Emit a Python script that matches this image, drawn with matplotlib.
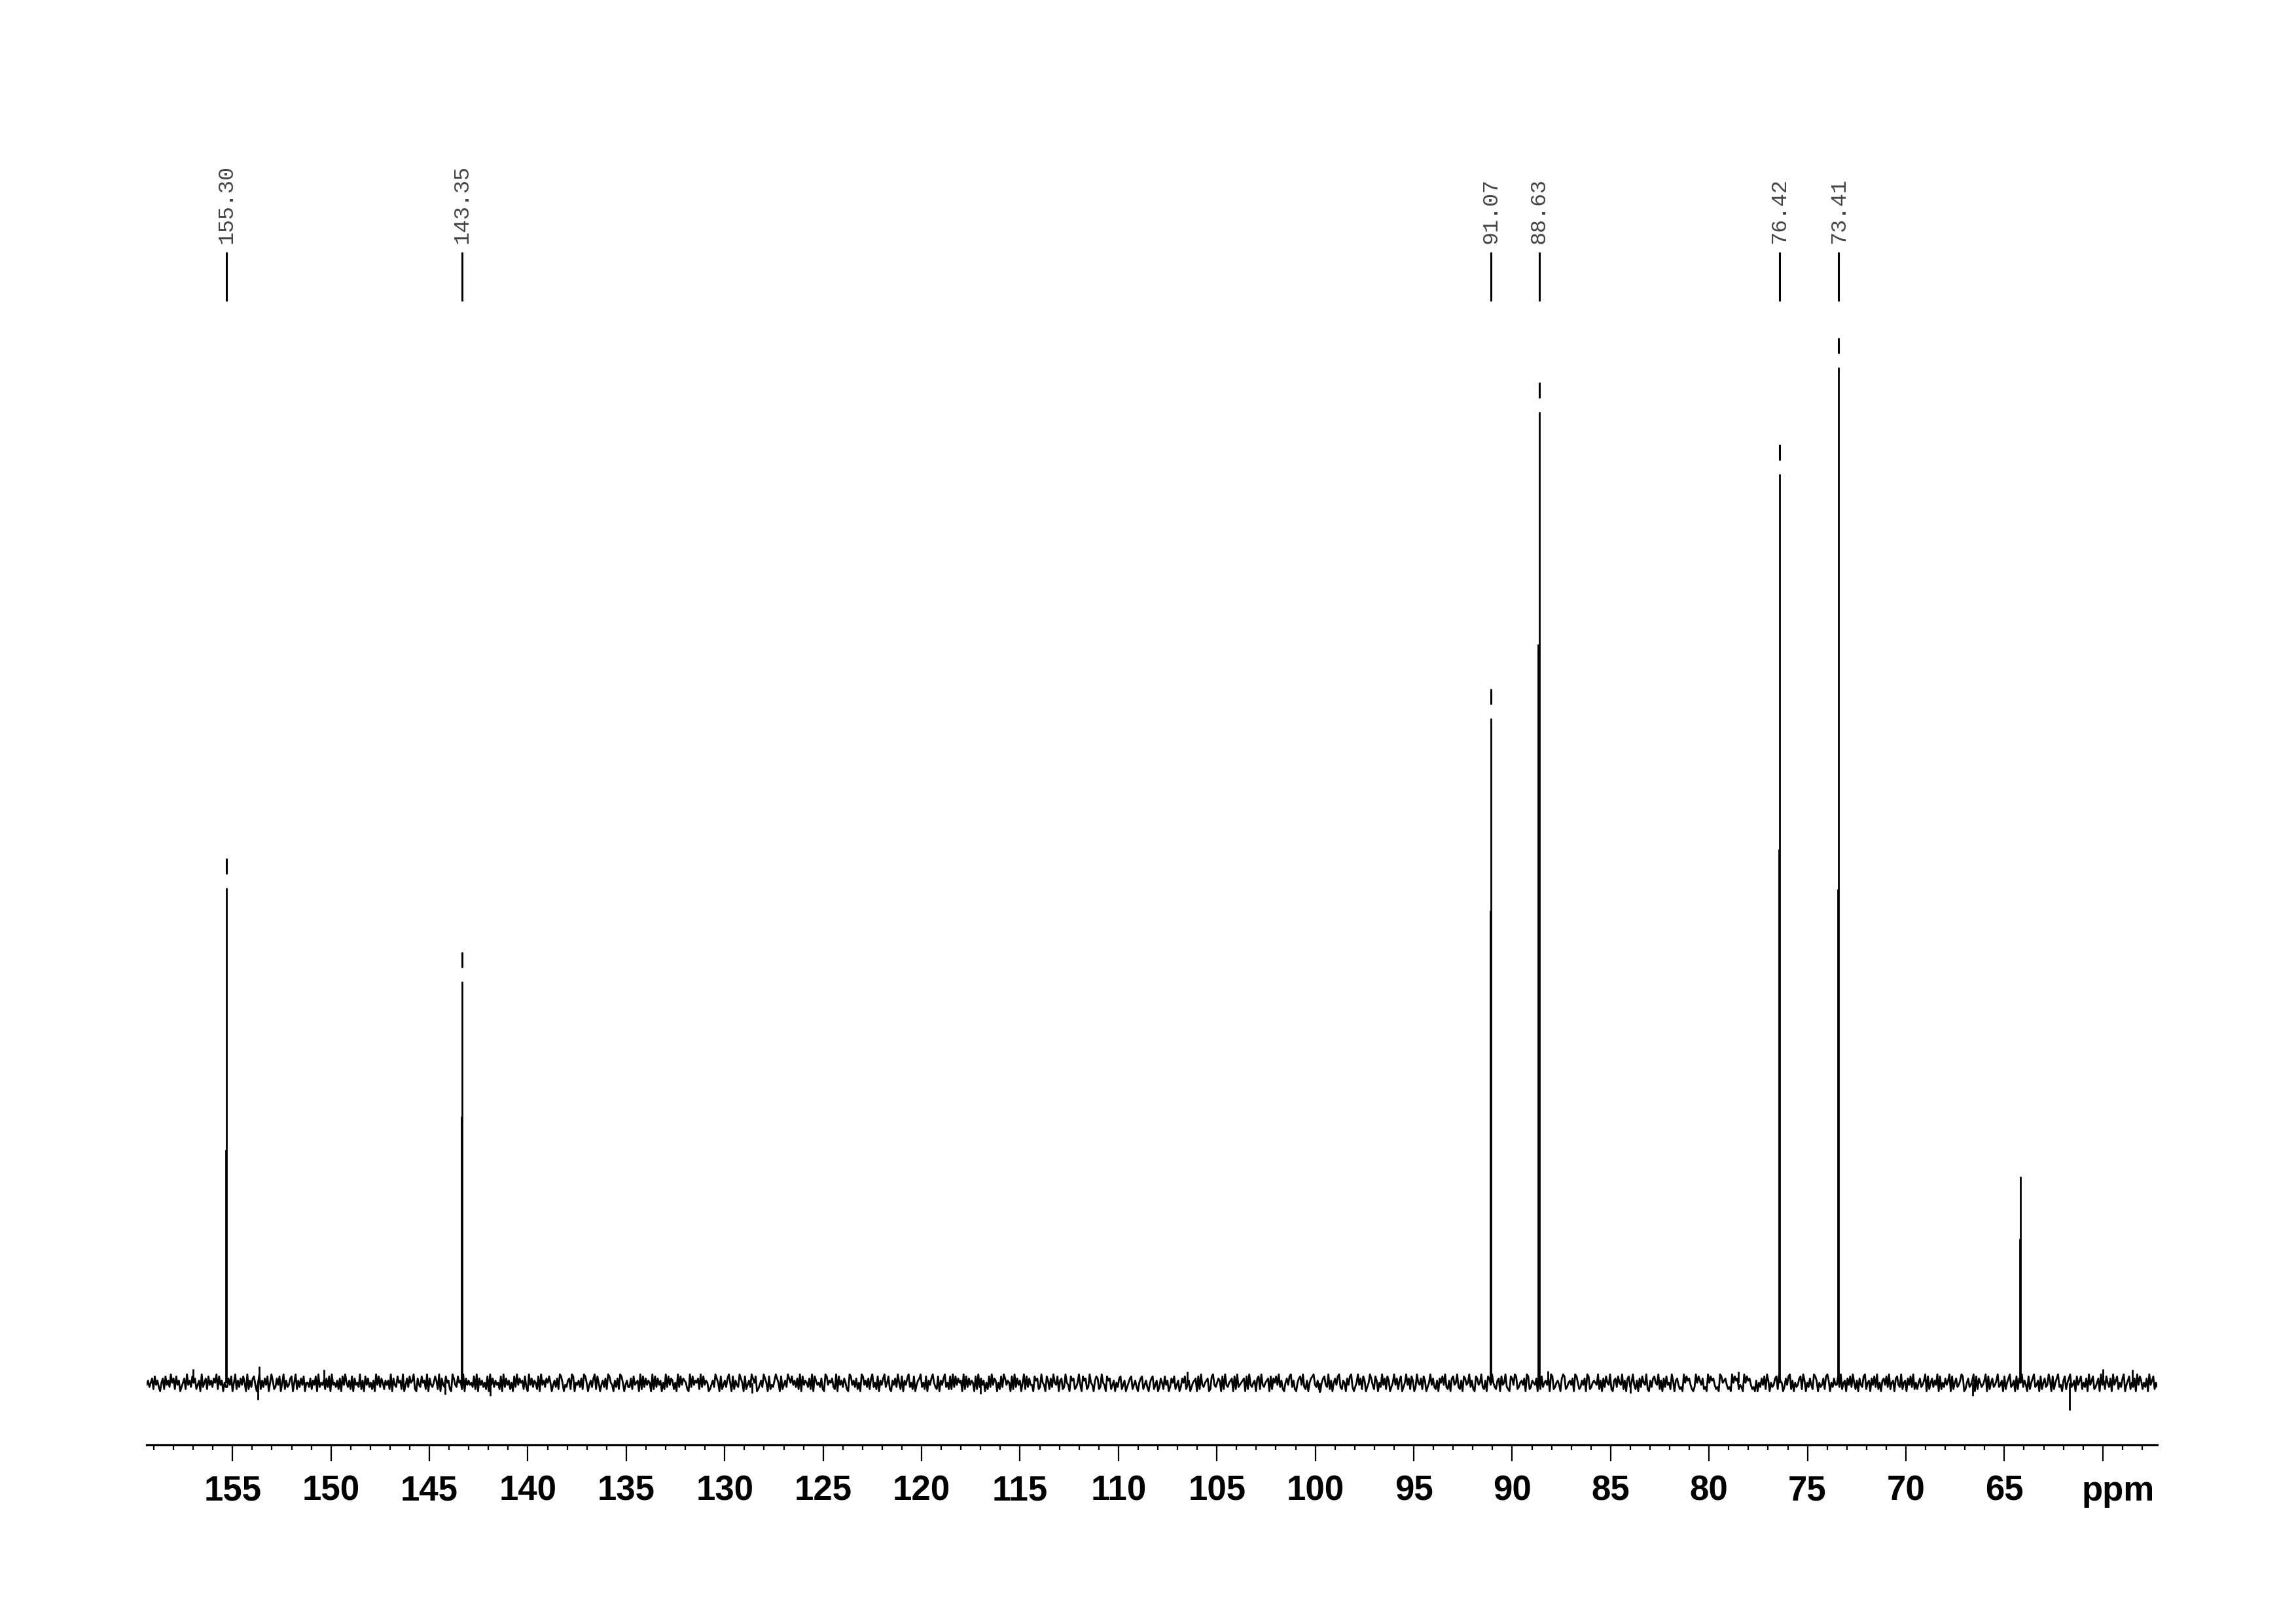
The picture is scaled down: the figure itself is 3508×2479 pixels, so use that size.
import numpy as np
import matplotlib.pyplot as plt
from matplotlib import font_manager
from matplotlib.ticker import FixedLocator, MultipleLocator

# 13C spectrum: picked peaks (ppm) and their heights (arbitrary intensity units)
peak_ppm = [155.30, 143.35, 91.07, 88.63, 76.42, 73.41, 64.18]
peak_height = [75.6, 61.3, 101.5, 148.3, 138.8, 155.1, 31.5]
# lower, slightly broader part of each line
shoulder_height = [35.6, 40.7, 72.1, 112.8, 81.5, 75.4, 22.0]
peak_labels = ['155.30', '143.35', '91.07', '88.63', '76.42', '73.41', '']

# isolated baseline spikes
spike_ppm = [157.0, 153.70, 153.65, 150.35, 144.2, 141.9, 128.6, 117.0,
             106.5, 99.8, 88.2, 84.0, 78.5, 66.6, 61.68, 60.0, 58.5]
spike_height = [2.1, -2.6, 2.5, 2.0, -1.8, -2.0, -1.6, -1.7,
                1.7, -1.5, 1.8, -1.6, 1.7, -2.0, -4.2, 2.1, 2.0]

# baseline noise trace, one digit per point (5 = baseline)
noise_digits = (
    "463572846315728463957284613572946385724619357284637592846153"
    "374815926374851926378415926374815962374815926347815926374815"
    "537264819354627381945362718495362817453926184735261948375264"
    "629174385629147385692174385629174358629174385621974385629174"
    "645382917463528194736452819374625183947562831947365281946375"
    "851463729851436729815463729851463792851463729854163729851463"
    "372845619283746519283746152938476251938476521938465729384651"
    "246397518246379518264397518246397581246397518243697518246397"
    "584637291846537291864537219846573291846375219846372519846372"
    "793528164793582164739528164793528146793528164795328164793528"
    "293847561928374651829374615283947615283974651829374615928374"
    "418672395418627395481672395418672359418672395416872395418672"
    "461537824613578246315782463157824613752846137582461375824613"
    "567182943567128943576182943567182934567182943561782943567182"
    "758493621574893621578493261578943621578439261574893265174893"
    "135947286135974286153947286135947268135947286139547286135947"
    "326175849326178459326187459362187459326187495326718459321874"
    "982356471982365471928356471982356417982356471985236471982356"
    "549261738549216738549261783594261738549216378549261738452961"
    "674231958674213958647231958674231985674231958672431958674231"
    "615374829615347829651374892615347829615374298615347289615374"
    "483925617483952617438925617483925167483925617843925617483925"
    "257346918257364918253746918257346981257346918275346918257346"
    "934618257934618275936418257934618257349618257934168257934618"
    "468253719468235719462853719468253791468253719486253719468253"
)

tick_ppm = list(range(155, 59, -5))
tick_labels = [str(t) for t in range(155, 64, -5)] + ['']
ppm_left, ppm_right = 159.36, 57.23

# narrow bold sans for the axis numbers, if one is installed
installed = {f.name for f in font_manager.fontManager.ttflist}
axis_family = 'Liberation Sans'
for name in ['Liberation Sans Narrow', 'Arial Narrow', 'DejaVu Sans Condensed']:
    if name in installed:
        axis_family = name
        break

fig = plt.figure(figsize=(35.08, 24.79), dpi=100)
ax = fig.add_axes([0.0639, 0.1097, 0.8757, 0.7692])
ax.set_xlim(ppm_left, ppm_right)
ax.set_ylim(-9.5, 181.2)

# baseline noise
noise = np.array([int(c) for c in noise_digits]) - 5
noise_x = np.linspace(ppm_left, ppm_right, len(noise))
ax.plot(noise_x, noise * 0.32, color='black', lw=2.0)
ax.vlines(spike_ppm, 0, spike_height, color='black', lw=2.0)

# peaks
ax.vlines(peak_ppm, 0, peak_height, color='black', lw=2.0)
ax.vlines(np.array(peak_ppm) + 0.04, 0, shoulder_height, color='black', lw=2.0)

# peak-pick marks and labels
for ppm, h, lab in zip(peak_ppm, peak_height, peak_labels):
    if not lab:
        continue
    ax.vlines(ppm, h + 2.1, h + 4.5, color='black', lw=2.2)
    ax.vlines(ppm, 165.2, 172.7, color='black', lw=2.2, clip_on=False)
    ax.text(ppm, 174.0, lab, rotation=90, ha='center', va='bottom',
            family=['Liberation Mono', 'DejaVu Sans Mono'], fontsize=24,
            color='#444444', clip_on=False)

# axis
for s in ['left', 'right', 'top']:
    ax.spines[s].set_visible(False)
ax.spines['bottom'].set_linewidth(2.3)
ax.set_yticks([])
ax.xaxis.set_major_locator(FixedLocator(tick_ppm))
ax.xaxis.set_minor_locator(MultipleLocator(1))
ax.set_xticklabels(tick_labels)
ax.tick_params(axis='x', which='major', length=18, width=1.6, pad=15,
               direction='out')
ax.tick_params(axis='x', which='minor', length=6, width=1.6, direction='out')
for t in ax.get_xticklabels():
    t.set_family(axis_family)
    t.set_fontweight('bold')
    t.set_fontsize(38)
ax.annotate('ppm', xy=(ppm_right, 0), xycoords=('data', 'axes fraction'),
            xytext=(-3, -33), textcoords='offset points', ha='right', va='top',
            family=axis_family, fontweight='bold', fontsize=38)

fig.savefig('out.png', dpi=100)
